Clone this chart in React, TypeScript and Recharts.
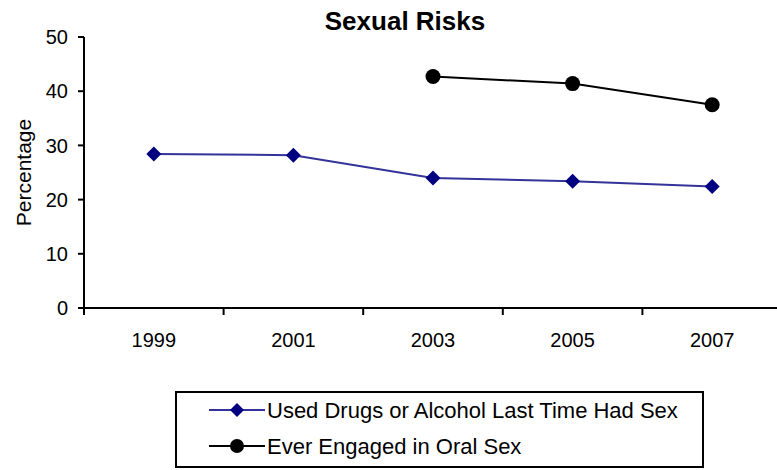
import React from 'react';
import { LineChart, Line, XAxis, YAxis } from 'recharts';

const title = 'Sexual Risks';
const yLabel = 'Percentage';
const years = ['1999', '2001', '2003', '2005', '2007'];
const drugsAlcohol = [28.4, 28.2, 24.0, 23.4, 22.4];
const oralSex: (number | null)[] = [null, null, 42.7, 41.4, 37.5];
const yTicks = [0, 10, 20, 30, 40, 50];
const seriesNames = ['Used Drugs or Alcohol Last Time Had Sex', 'Ever Engaged in Oral Sex'];

const data = years.map((year, i) => ({ year, drugs: drugsAlcohol[i], oral: oralSex[i] }));

const FONT = '"Liberation Sans", Arial, sans-serif';
const BLUE_LINE = '#333399';
const BLUE_MARK = '#000080';

const Diamond = (props: any) => {
  const { cx, cy, index } = props;
  if (cx == null || cy == null) return <g key={`d${index}`} />;
  const r = 7.5;
  return (
    <polygon
      key={`d${index}`}
      points={`${cx},${cy - r} ${cx + r},${cy} ${cx},${cy + r} ${cx - r},${cy}`}
      fill={BLUE_MARK}
    />
  );
};

const Dot = (props: any) => {
  const { cx, cy, index } = props;
  if (cx == null || cy == null) return <g key={`c${index}`} />;
  return <circle key={`c${index}`} cx={cx} cy={cy} r={7.5} fill="#000" />;
};

const XTick = (props: any) => {
  const { x, y, payload, width, index } = props;
  const bw = (width || 698) / years.length;
  const bx = x - bw / 2;
  return (
    <g>
      <line x1={bx} x2={bx} y1={y} y2={y + 7} stroke="#000" strokeWidth={2} />
      {index === years.length - 1 && (
        <line x1={x + bw / 2} x2={x + bw / 2} y1={y} y2={y + 7} stroke="#000" strokeWidth={2} />
      )}
      <text x={x} y={y + 39} textAnchor="middle" fontSize={20} fontFamily={FONT} fill="#000">
        {payload.value}
      </text>
    </g>
  );
};

const YLabel = (props: any) => {
  const vb = props.viewBox || { y: 37, height: 271 };
  const cy = vb.y + vb.height / 2;
  const cx = 23;
  return (
    <text
      x={cx}
      y={cy}
      transform={`rotate(-90 ${cx} ${cy})`}
      textAnchor="middle"
      dominantBaseline="central"
      fontSize={21}
      fontFamily={FONT}
      fill="#000"
    >
      {yLabel}
    </text>
  );
};

export default function App() {
  return (
    <div
      style={{
        position: 'absolute',
        left: 0,
        top: 0,
        width: 777,
        height: 470,
        overflow: 'hidden',
        background: '#fff',
        fontFamily: FONT,
      }}
    >
      <div
        style={{
          position: 'absolute',
          left: 255,
          top: 8,
          width: 300,
          textAlign: 'center',
          fontSize: 26,
          lineHeight: '26px',
          fontWeight: 'bold',
          color: '#000',
          zIndex: 2,
        }}
      >
        {title}
      </div>
      <LineChart
        width={782}
        height={470}
        data={data}
        margin={{ top: 37, right: 0, bottom: 112, left: 0 }}
      >
        <XAxis
          dataKey="year"
          scale="band"
          interval={0}
          height={50}
          tickSize={0}
          tickMargin={0}
          tickLine={false}
          axisLine={{ stroke: '#000', strokeWidth: 2 }}
          tick={<XTick />}
        />
        <YAxis
          width={84}
          domain={[0, 50]}
          ticks={yTicks}
          interval={0}
          tickSize={6}
          tickMargin={10}
          axisLine={{ stroke: '#000', strokeWidth: 2 }}
          tickLine={{ stroke: '#000', strokeWidth: 2 }}
          tick={{ fontSize: 20, fill: '#000', fontFamily: FONT }}
          label={<YLabel />}
        />
        <Line
          dataKey="drugs"
          name={seriesNames[0]}
          stroke={BLUE_LINE}
          strokeWidth={2}
          dot={Diamond}
          activeDot={false}
          isAnimationActive={false}
        />
        <Line
          dataKey="oral"
          name={seriesNames[1]}
          stroke="#000"
          strokeWidth={2}
          dot={Dot}
          activeDot={false}
          isAnimationActive={false}
        />
      </LineChart>
      <div
        style={{
          position: 'absolute',
          left: 175,
          top: 391,
          width: 529,
          height: 77,
          boxSizing: 'border-box',
          border: '2px solid #000',
          background: '#fff',
        }}
      >
        <svg width={525} height={73} style={{ position: 'absolute', left: 0, top: 0 }}>
          {seriesNames.map((name, i) => {
            const cy = 17 + i * 36;
            return (
              <g key={name}>
                <line x1={32} x2={88} y1={cy} y2={cy} stroke={i === 0 ? BLUE_LINE : '#000'} strokeWidth={2} />
                {i === 0 ? (
                  <polygon
                    points={`60,${cy - 7} 67,${cy} 60,${cy + 7} 53,${cy}`}
                    fill={BLUE_MARK}
                  />
                ) : (
                  <circle cx={60} cy={cy} r={7} fill="#000" />
                )}
                <text x={90} y={cy + 8} fontSize={22} fontFamily={FONT} fill="#000">
                  {name}
                </text>
              </g>
            );
          })}
        </svg>
      </div>
    </div>
  );
}
